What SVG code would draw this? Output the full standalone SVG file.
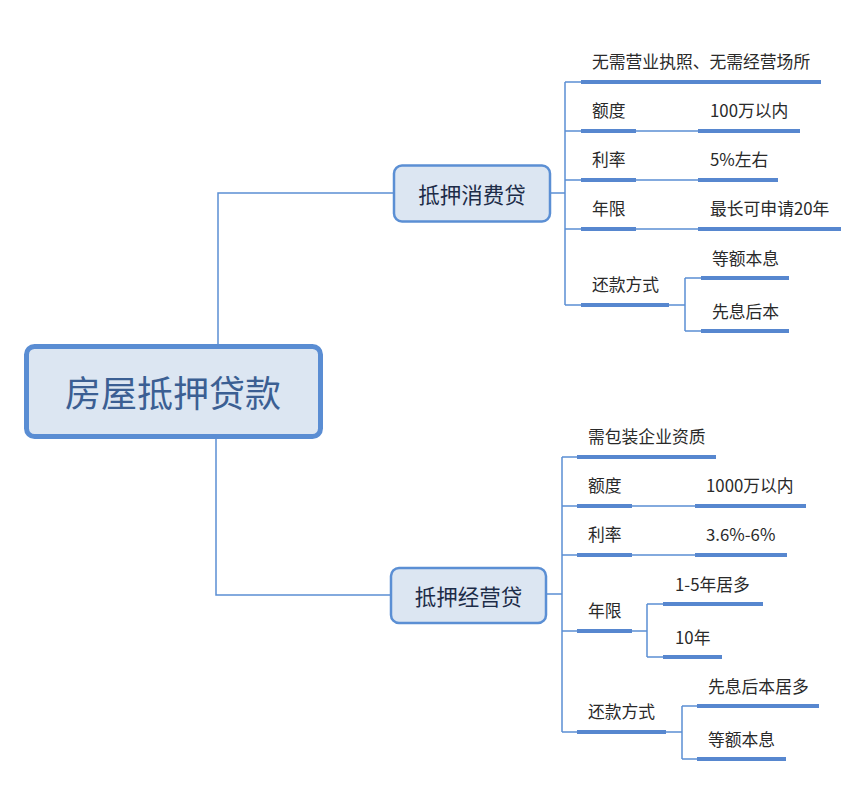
<svg xmlns="http://www.w3.org/2000/svg" width="868" height="785" viewBox="0 0 868 785">
<style>
.thin{fill:none;stroke:#5b8fd4;stroke-width:1.5}
.thick{fill:none;stroke:#5787cf;stroke-width:4}
.lbl{font-family:"Noto Sans CJK SC","Microsoft YaHei",sans-serif;font-size:16.8px;fill:#2a2a2a}
.box{fill:#dce6f2;stroke:#5b8fd4;stroke-width:2.5}
.ntxt{font-family:"Noto Sans CJK SC","Microsoft YaHei",sans-serif;font-size:21.5px;fill:#1c2c48;text-anchor:middle;dominant-baseline:central}
</style>
<rect width="868" height="785" fill="#ffffff"/>
<g id="connectors">
<path class="thin" d="M218 346 V193 H394"/>
<path class="thin" d="M216 437 V595 H391"/>
<path class="thin" d="M550 193 H565 M565 82 V305 M565 82 H581 M565 131 H581 M565 180 H581 M565 229 H581 M565 305 H581"/>
<path class="thin" d="M636 131 H698 M636 180 H698 M636 229 H698 M669 305 H685 M685 278 V331 M685 278 H701 M685 331 H701"/>
<path class="thin" d="M546 594 H562 M562 457 V732 M562 457 H577 M562 506 H577 M562 555 H577 M562 631 H577 M562 732 H577"/>
<path class="thin" d="M632 506 H695 M632 555 H695 M632 631 H647 M647 604 V657 M647 604 H663 M647 657 H663 M666 732 H682 M682 706 V759 M682 706 H697 M682 759 H697"/>
</g>
<g id="root">
<rect x="26.5" y="346.5" width="294" height="90" rx="8" fill="#dce6f2" stroke="#5a8dd3" stroke-width="5"/>
<text x="173" y="391" font-family="'Noto Sans CJK SC','Microsoft YaHei',sans-serif" font-size="36" fill="#3b5f93" text-anchor="middle" dominant-baseline="central">房屋抵押贷款</text>
</g>
<g id="node-consumer">
<rect class="box" x="394" y="165.5" width="156" height="56" rx="8"/>
<text class="ntxt" x="472" y="193.5">抵押消费贷</text>
</g>
<g id="node-business">
<rect class="box" x="391" y="568" width="155" height="55" rx="8"/>
<text class="ntxt" x="468.5" y="595.5">抵押经营贷</text>
</g>
<g id="consumer-items">
<g id="c1"><path class="thick" d="M581 82 H821"/><text class="lbl" x="592" y="68">无需营业执照、无需经营场所</text></g>
<g id="c2"><path class="thick" d="M581 131 H636"/><text class="lbl" x="592" y="117">额度</text></g>
<g id="c2v"><path class="thick" d="M698 131 H800"/><text class="lbl" x="710" y="117">100万以内</text></g>
<g id="c3"><path class="thick" d="M581 180 H636"/><text class="lbl" x="592" y="166">利率</text></g>
<g id="c3v"><path class="thick" d="M698 180 H778"/><text class="lbl" x="710" y="166">5%左右</text></g>
<g id="c4"><path class="thick" d="M581 229 H636"/><text class="lbl" x="592" y="215">年限</text></g>
<g id="c4v"><path class="thick" d="M698 229 H841"/><text class="lbl" x="710" y="215">最长可申请20年</text></g>
<g id="c5"><path class="thick" d="M581 305 H669"/><text class="lbl" x="592" y="291">还款方式</text></g>
<g id="c5a"><path class="thick" d="M701 278 H789"/><text class="lbl" x="712" y="265">等额本息</text></g>
<g id="c5b"><path class="thick" d="M701 331 H789"/><text class="lbl" x="712" y="318">先息后本</text></g>
</g>
<g id="business-items">
<g id="b1"><path class="thick" d="M577 457 H716"/><text class="lbl" x="588" y="443">需包装企业资质</text></g>
<g id="b2"><path class="thick" d="M577 506 H632"/><text class="lbl" x="588" y="492">额度</text></g>
<g id="b2v"><path class="thick" d="M695 506 H806"/><text class="lbl" x="706" y="492">1000万以内</text></g>
<g id="b3"><path class="thick" d="M577 555 H632"/><text class="lbl" x="588" y="541">利率</text></g>
<g id="b3v"><path class="thick" d="M695 555 H787"/><text class="lbl" x="706" y="541">3.6%-6%</text></g>
<g id="b4"><path class="thick" d="M577 631 H632"/><text class="lbl" x="588" y="617">年限</text></g>
<g id="b4a"><path class="thick" d="M663 604 H763"/><text class="lbl" x="675" y="591">1-5年居多</text></g>
<g id="b4b"><path class="thick" d="M663 657 H722"/><text class="lbl" x="675" y="644">10年</text></g>
<g id="b5"><path class="thick" d="M577 732 H666"/><text class="lbl" x="588" y="718">还款方式</text></g>
<g id="b5a"><path class="thick" d="M697 706 H819"/><text class="lbl" x="708" y="693">先息后本居多</text></g>
<g id="b5b"><path class="thick" d="M697 759 H786"/><text class="lbl" x="708" y="746">等额本息</text></g>
</g>
</svg>
